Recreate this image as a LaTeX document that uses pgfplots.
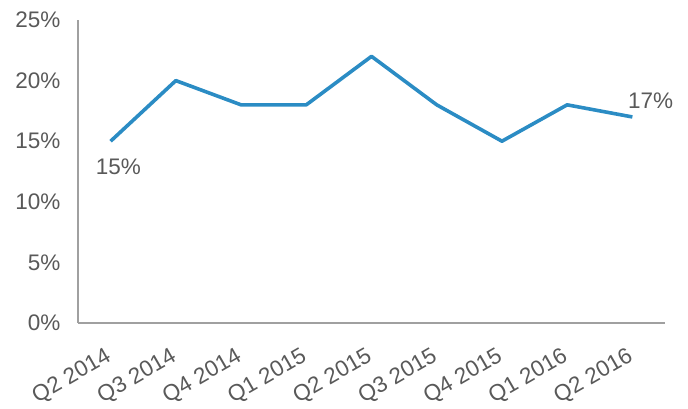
\documentclass[border=0pt]{standalone}
\usepackage{pgfplots}
\pgfplotsset{compat=1.18}
\usepackage{fontspec}
\setmainfont{Liberation Sans}
\definecolor{linec}{HTML}{2B8CC4}
\definecolor{txt}{HTML}{595959}
\definecolor{axc}{HTML}{A0A0A0}

\begin{document}
\begin{tikzpicture}
\begin{axis}[
  scale only axis,
  width=587pt,height=303pt,
  xmin=-0.5,xmax=8.5,ymin=0,ymax=25,
  axis x line*=bottom,axis y line*=left,
  axis line style={axc,line width=1.2pt},
  every outer x axis line/.append style={-},
  every outer y axis line/.append style={-},
  major tick length=0pt,
  xtick={0,...,8},
  xticklabels={Q2 2014,Q3 2014,Q4 2014,Q1 2015,Q2 2015,Q3 2015,Q4 2015,Q1 2016,Q2 2016},
  ytick={0,5,10,15,20,25},
  yticklabels={0\%,5\%,10\%,15\%,20\%,25\%},
  tick label style={font=\fontsize{22.5}{26}\selectfont,text=txt},
  x tick label style={rotate=30,anchor=north east,inner sep=1pt,xshift=-16pt,yshift=-16pt},
  y tick label style={xshift=-14pt},
  clip=false,
]
\addplot[linec,line width=3.6pt,line join=round] coordinates {
  (0,15) (1,20) (2,18) (3,18) (4,22) (5,18) (6,15) (7,18) (8,17)};
\node[font=\fontsize{22.5}{26}\selectfont,text=txt] at (axis cs:0.12,12.9) {15\%};
\node[font=\fontsize{22.5}{26}\selectfont,text=txt] at (axis cs:8.28,18.3) {17\%};
\end{axis}
\path (current axis.south west) ++(-78pt,323pt) rectangle ++(688pt,-400pt);
\end{tikzpicture}
\end{document}
